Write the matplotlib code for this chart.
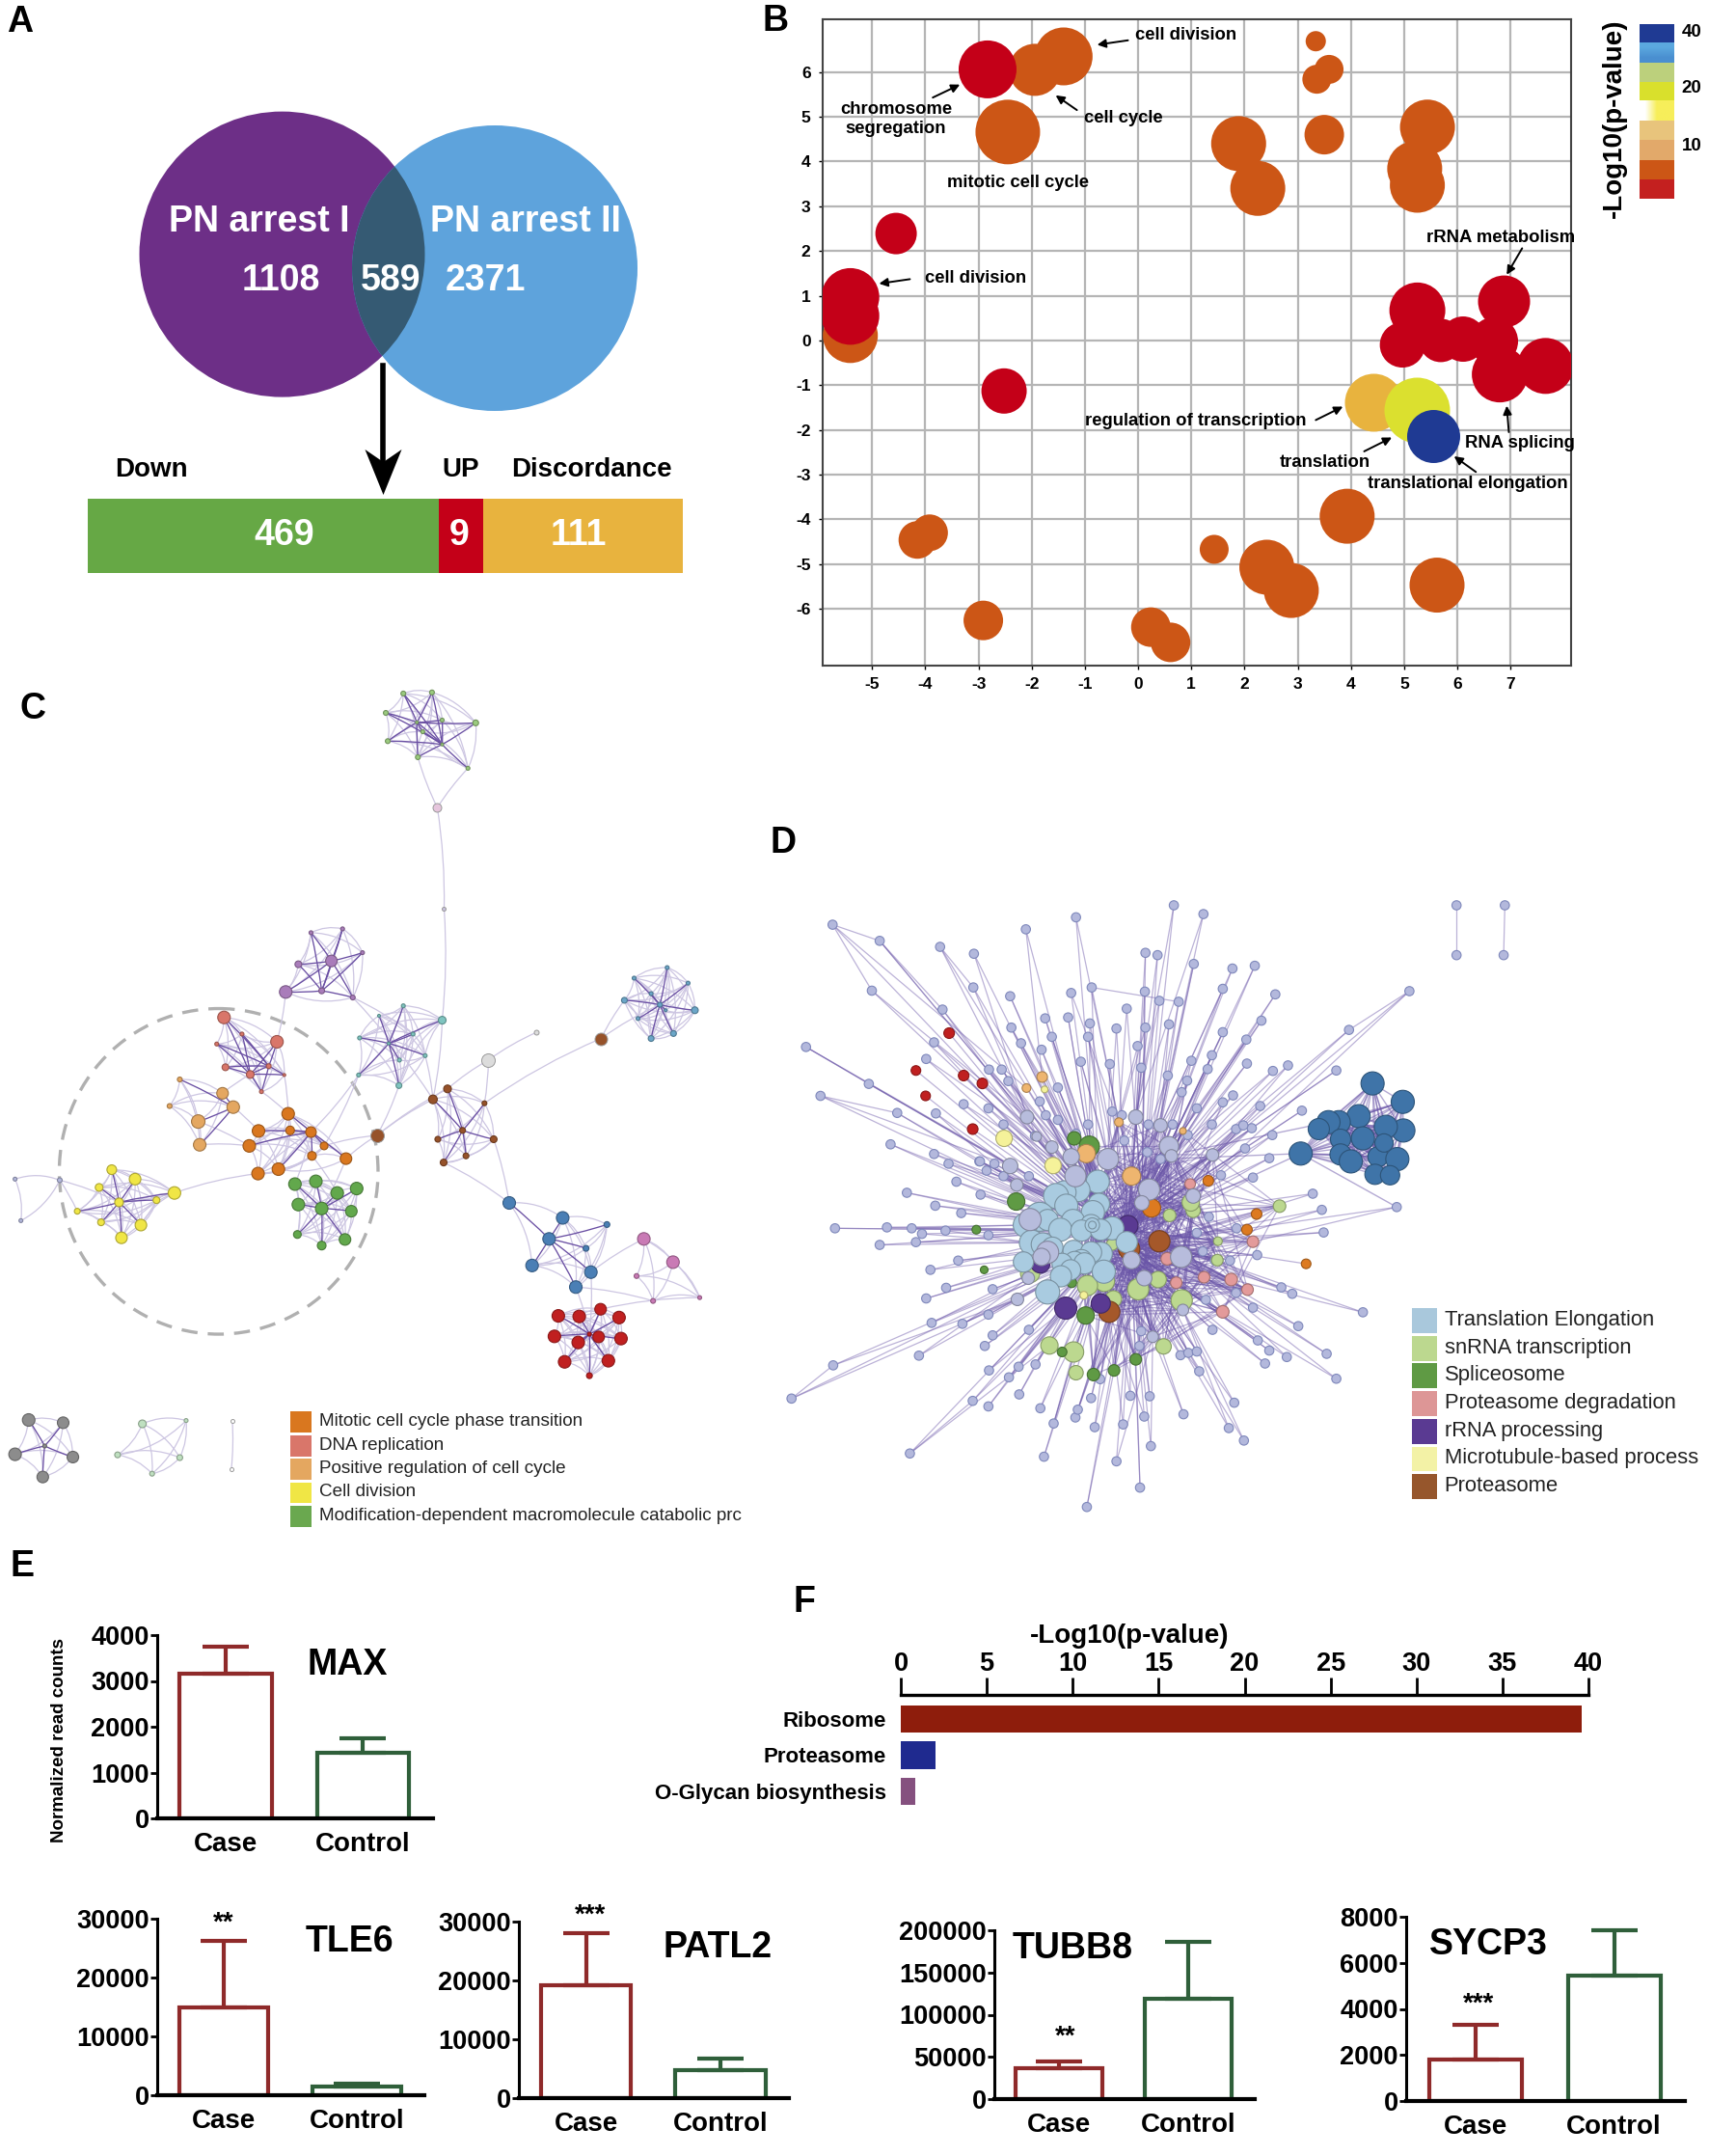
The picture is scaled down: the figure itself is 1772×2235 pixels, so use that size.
import numpy as np
import matplotlib
matplotlib.use("Agg")
import matplotlib.pyplot as plt
from matplotlib.collections import LineCollection, PathCollection
from matplotlib.colors import to_rgb
from matplotlib.patches import Circle, Ellipse, Polygon, Rectangle
from matplotlib.path import Path

plt.rcParams['font.family'] = ['Liberation Sans', 'DejaVu Sans']
plt.rcParams['axes.unicode_minus'] = False

W, H = 1772, 2235

# ---- panel A
venn_names = ['PN arrest I', 'PN arrest II']
venn_counts = ['1108', '589', '2371']
split_names = ['Down', 'UP', 'Discordance']
split_labels = ['469', '9', '111']
split_widths = [364, 46, 207]   # drawn widths, not proportional in the figure
split_colors = ['#66a845', '#c40018', '#e8b33e']

# ---- panel B: (x, y, diameter)
b_orange = [(-5.41, 0.11, 57), (-1.4, 6.35, 60), (-1.94, 6.05, 54), (-2.45, 4.66, 67), (3.34, 6.69, 21),
            (3.59, 6.06, 30), (3.36, 5.84, 30), (3.5, 4.6, 41), (1.89, 4.4, 57), (2.25, 3.4, 57),
            (5.44, 4.77, 57), (5.2, 3.84, 57), (5.25, 3.47, 57), (3.93, -3.93, 57), (-3.92, -4.3, 38),
            (-4.15, -4.46, 39), (1.43, -4.67, 30), (2.42, -5.07, 57), (2.88, -5.59, 57), (5.62, -5.47, 57),
            (-2.91, -6.26, 41), (0.24, -6.41, 41), (0.61, -6.75, 41)]
b_red = [(-2.83, 6.06, 60), (-4.55, 2.39, 43), (-5.41, 0.97, 60), (-5.41, 0.55, 60), (-2.52, -1.13, 47),
         (5.25, 0.67, 58), (4.97, -0.1, 47), (5.69, 0.0, 45), (6.11, 0.03, 47), (6.69, -0.02, 50),
         (6.88, 0.87, 54), (6.8, -0.76, 58), (7.66, -0.57, 58)]
b_top = [(4.43, -1.38, 60, '#e8b33e'), (5.23, -1.55, 68, '#dbe02f'), (5.54, -2.13, 55, '#1f3a93')]
b_notes = ['cell division', 'chromosome\nsegregation', 'cell cycle', 'mitotic cell cycle', 'cell division',
           'rRNA metabolism', 'regulation of transcription', 'translation', 'RNA splicing',
           'translational elongation']
b_note_xy = [(0.89, 6.83), (-4.55, 4.95), (-0.28, 4.98), (-2.26, 3.52), (-3.06, 1.38),
             (6.82, 2.3), (1.09, -1.8), (3.51, -2.72), (7.18, -2.3), (6.19, -3.21)]
b_arrows = [((-0.19, 6.71), (-0.77, 6.61)), ((-3.86, 5.43), (-3.35, 5.72)), ((-1.15, 5.15), (-1.55, 5.48)),
            ((-4.29, 1.37), (-4.87, 1.27)), ((7.22, 2.06), (6.93, 1.47)), ((3.34, -1.78), (3.85, -1.48)),
            ((4.25, -2.48), (4.77, -2.17)), ((6.97, -2.05), (6.93, -1.46)), ((6.35, -2.94), (5.94, -2.59))]
cbar_colors = ['#c4201f', '#cc5616', '#e2a96a', '#e8c47c', '#f7ee5a', '#d9e02c', '#bcd07c', '#5ba8df', '#1f3a93']

# ---- panel C: cluster nodes (x, y, diameter), hub indices
c_top = [(830, 33, 5), (889, 31, 5), (794, 68, 5), (798, 119, 5), (860, 148, 5), (979, 86, 6), (910, 81, 4),
         (870, 102, 4), (963, 168, 4), (858, 85, 3), (910, 125, 3)]
c_purple = [(640, 465, 4), (705, 458, 4), (746, 501, 4), (682, 516, 12), (614, 522, 7), (662, 570, 6),
            (726, 582, 5), (588, 572, 13)]
c_teal = [(830, 597, 4), (740, 655, 4), (780, 615, 3), (850, 648, 4), (800, 665, 3), (875, 687, 4), (738, 722, 4),
          (822, 695, 4), (821, 741, 6), (910, 623, 8)]
c_dna = [(461, 618, 13), (570, 662, 13), (498, 648, 4), (446, 666, 4), (464, 708, 7), (515, 721, 8), (553, 706, 5),
         (585, 722, 3), (538, 752, 4)]
c_posreg = [(370, 730, 5), (349, 778, 5), (458, 755, 12), (480, 780, 13), (408, 806, 14), (411, 848, 13)]
c_mitotic = [(593, 792, 13), (532, 823, 13), (513, 850, 13), (597, 822, 9), (640, 825, 11), (667, 850, 8),
             (642, 868, 9), (712, 873, 12), (573, 892, 13), (531, 900, 13)]
c_green = [(607, 919, 13), (650, 914, 13), (694, 935, 13), (734, 927, 13), (614, 956, 13), (662, 963, 13),
           (723, 968, 12), (612, 1010, 8), (662, 1030, 9), (710, 1019, 12)]
c_yellow = [(230, 893, 10), (278, 910, 12), (204, 925, 8), (245, 952, 9), (322, 948, 7), (159, 968, 6),
            (208, 988, 7), (290, 993, 12), (250, 1016, 12), (359, 935, 13)]
c_left = [(31, 910, 4), (123, 912, 5), (43, 985, 4)]
c_brown = [(891, 766, 9), (921, 747, 8), (997, 773, 5), (1016, 838, 7), (901, 838, 6), (952, 822, 6),
           (959, 868, 6), (913, 880, 7)]
c_cyan = [(1305, 547, 4), (1373, 528, 4), (1416, 556, 4), (1430, 605, 7), (1386, 647, 6), (1340, 656, 6),
          (1285, 587, 6), (1358, 595, 5), (1370, 605, 3), (1313, 620, 4), (1340, 575, 4)]
c_blue = [(1048, 953, 13), (1158, 980, 13), (1249, 992, 6), (1130, 1018, 13), (1206, 1035, 6), (1095, 1066, 13),
          (1216, 1078, 13), (1185, 1105, 13)]
c_pink = [(1325, 1018, 13), (1385, 1060, 13), (1310, 1085, 5), (1344, 1130, 5), (1440, 1124, 4)]
c_red = [(1149, 1157, 13), (1192, 1158, 13), (1236, 1145, 12), (1274, 1160, 13), (1141, 1194, 13), (1190, 1205, 13),
         (1232, 1195, 12), (1278, 1198, 13), (1162, 1240, 13), (1252, 1238, 13), (1213, 1190, 4), (1213, 1265, 6)]
c_gray = [(59, 1345, 13), (130, 1350, 12), (31, 1407, 13), (150, 1412, 12), (88, 1448, 12), (92, 1392, 4)]
c_pale = [(293, 1352, 8), (383, 1346, 4), (242, 1408, 6), (370, 1413, 6), (313, 1442, 5)]
c_single = [(1237, 656, 13, '#96522a'), (776, 831, 14, '#96522a'), (1005, 695, 14, '#dcdcdc'), (1104, 645, 5, '#dcdcdc'),
            (900, 239, 9, '#e6c5dd'), (914, 422, 4, '#c9c2de'), (478, 1346, 4, '#ffffff'), (476, 1434, 4, '#ffffff')]
c_clusters = [(c_top, '#9bcb7f', (9, 10)), (c_purple, '#a97cba', (3, 5)), (c_teal, '#7fc4c0', (4,)), (c_dna, '#d9766a', (5, 6)),
              (c_posreg, '#e4a760', (3,)), (c_mitotic, '#d9771f', (4,)), (c_green, '#62a84c', (5,)), (c_yellow, '#f0e645', (3,)),
              (c_left, '#b3b8dc', ()), (c_brown, '#96522a', (5,)), (c_cyan, '#6ba6c8', (7,)), (c_blue, '#4a7fb5', (3,)),
              (c_pink, '#c97ab5', ()), (c_red, '#c02020', (10,)), (c_gray, '#8c8c8c', (5,)), (c_pale, '#bfe0c0', ())]
c_bridges = [((900, 239), (914, 422)), ((914, 422), (910, 623)), ((900, 239), (860, 148)), ((900, 239), (963, 168)),
             ((1005, 695), (1104, 645)), ((921, 747), (1005, 695)), ((997, 773), (1237, 656)), ((1237, 656), (1285, 587)),
             ((1237, 656), (1358, 595)), ((776, 831), (891, 766)), ((776, 831), (921, 747)), ((667, 850), (776, 831)),
             ((712, 873), (776, 831)), ((359, 935), (531, 900)), ((359, 935), (245, 952)), ((123, 912), (245, 952)),
             ((123, 912), (159, 968)), ((910, 623), (891, 766)), ((875, 687), (891, 766)), ((726, 582), (850, 648)),
             ((726, 582), (891, 766)), ((588, 572), (570, 662)), ((738, 722), (640, 825)), ((738, 722), (667, 850)),
             ((913, 880), (1048, 953)), ((1016, 838), (1048, 953)), ((1185, 1105), (1213, 1190)), ((1216, 1078), (1213, 1190)),
             ((1216, 1078), (1325, 1018)), ((1185, 1105), (1344, 1130)), ((1236, 1145), (1440, 1124)), ((538, 752), (593, 792)),
             ((585, 722), (593, 792)), ((593, 792), (640, 825)), ((480, 780), (532, 823)), ((408, 806), (513, 850)),
             ((411, 848), (513, 850)), ((458, 755), (515, 721)), ((640, 825), (607, 919)), ((642, 868), (694, 935)),
             ((712, 873), (662, 963)), ((573, 892), (640, 825)), ((531, 900), (640, 825)), ((1005, 695), (997, 773)),
             ((821, 741), (776, 831)), ((478, 1346), (476, 1434))]
c_legend = ['Mitotic cell cycle phase transition', 'DNA replication', 'Positive regulation of cell cycle',
            'Cell division', 'Modification-dependent macromolecule catabolic prc']
c_legend_colors = ['#d9771f', '#d9766a', '#e4a760', '#f0e645', '#6aa84f']

# ---- panel D: outer nodes (x, y)
d_outer = [(117, 227), (195, 262), (182, 370), (295, 275), (351, 290), (350, 363), (299, 411), (437, 237), (520, 211),
           (682, 185), (731, 204), (635, 288), (655, 293), (715, 312), (779, 322), (816, 316), (850, 378), (763, 366),
           (690, 394), (658, 392), (634, 372), (546, 363), (512, 375), (411, 382), (413, 450), (469, 430), (507, 428),
           (480, 470), (429, 484), (463, 498), (543, 441), (540, 470), (604, 409), (587, 452), (635, 450), (674, 443),
           (622, 490), (763, 460), (827, 435), (802, 476), (745, 510), (711, 522), (803, 528), (738, 540), (846, 544),
           (871, 532), (951, 543), (972, 455), (1072, 371), (73, 492), (177, 572), (97, 598), (224, 635), (213, 703),
           (285, 482), (272, 518), (288, 636), (334, 616), (376, 541), (397, 541), (408, 566), (528, 524), (576, 529),
           (628, 537), (672, 554), (704, 565), (695, 590), (763, 612), (780, 597), (825, 620), (894, 630), (845, 683),
           (811, 668), (785, 670), (285, 724), (309, 745), (240, 808), (322, 784), (360, 740), (287, 836), (330, 852),
           (362, 812), (121, 885), (207, 883), (248, 885), (195, 921), (265, 897), (255, 915), (304, 890), (375, 900),
           (279, 975), (325, 955), (305, 1014), (382, 1017), (272, 1037), (281, 1090), (332, 1092), (375, 1072), (382, 1117),
           (369, 1140), (260, 1161), (118, 1182), (49, 1254), (245, 1373), (349, 1259), (375, 1271), (426, 1245), (409, 1208),
           (376, 1193), (425, 1185), (453, 1180), (442, 1105), (461, 1275), (483, 1308), (467, 1380), (538, 1489), (551, 1316),
           (587, 1390), (519, 1295), (523, 1278), (545, 1253), (560, 1212), (598, 1310), (610, 1248), (642, 1249), (633, 1293),
           (644, 1357), (626, 1447), (698, 1288), (773, 1318), (798, 1345), (782, 1263), (724, 1195), (693, 1160), (706, 1155),
           (720, 1152), (833, 1178), (840, 1150), (869, 1164), (821, 1128), (888, 1097), (935, 1157), (951, 1211), (995, 1067),
           (878, 1027), (860, 1013), (813, 1057), (820, 943), (786, 885), (930, 894), (927, 845), (912, 810), (1051, 839),
           (625, 1140), (648, 1120), (628, 1108), (746, 1105), (750, 955), (840, 733), (800, 712), (813, 775), (760, 770),
           (720, 625), (705, 683), (596, 640), (540, 660), (490, 650), (470, 640), (452, 685), (400, 660), (375, 625),
           (361, 740), (385, 745), (372, 760), (400, 772), (422, 790), (442, 772), (730, 935), (775, 955), (785, 1025),
           (735, 1040), (740, 860), (720, 895), (660, 735), (600, 695), (638, 720), (520, 680), (490, 580), (460, 610),
           (580, 632), (640, 660), (680, 660), (745, 660), (797, 662), (1150, 185), (1150, 293), (1230, 185), (1228, 293)]
# medium nodes inside the hairball, (x, y, diameter)
d_mid = [(411, 750, 16), (439, 644, 14), (480, 709, 13), (512, 730, 17), (573, 735, 22), (519, 772, 22), (619, 644, 15),
         (660, 662, 14), (674, 707, 20), (678, 728, 13), (746, 726, 13), (641, 801, 22), (629, 830, 15), (714, 815, 15),
         (694, 947, 22), (612, 954, 18), (633, 993, 16), (423, 1039, 13), (441, 993, 13), (422, 791, 13), (697, 1062, 12),
         (647, 1120, 12), (455, 686, 10), (444, 866, 23), (473, 937, 23), (463, 947, 18)]
d_elong = [(556, 784, 24), (524, 802, 24), (501, 807, 24), (487, 815, 26), (504, 836, 24), (558, 832, 22), (548, 850, 24),
           (460, 860, 30), (436, 878, 25), (473, 867, 22), (515, 869, 24), (545, 878, 22), (494, 888, 24), (529, 890, 22),
           (580, 885, 24), (561, 888, 22), (447, 916, 26), (465, 920, 24), (481, 927, 22), (516, 934, 22), (561, 940, 24),
           (545, 937, 22), (433, 958, 21), (529, 954, 22), (518, 958, 22), (497, 961, 21), (534, 961, 22), (566, 979, 24),
           (511, 975, 21), (495, 989, 22), (473, 1023, 25), (604, 915, 22), (547, 878, 15), (547, 878, 8)]
d_snrna = [(857, 837, 13), (714, 846, 15), (710, 829, 18), (675, 857, 13), (754, 954, 12), (755, 913, 9), (623, 1017, 22),
           (656, 996, 17), (695, 1041, 22), (567, 1000, 21), (539, 1009, 21), (582, 1038, 17), (444, 982, 20), (476, 1139, 18),
           (516, 1153, 21), (520, 1198, 15), (665, 1141, 16), (580, 920, 12)]
d_splice = [(517, 690, 14), (542, 707, 21), (421, 827, 18), (355, 888, 9), (368, 975, 8), (513, 1003, 10), (536, 1074, 18),
            (497, 1153, 10), (549, 1202, 13), (583, 1193, 12), (619, 1169, 12)]
d_degr = [(709, 789, 11), (813, 914, 12), (671, 951, 13), (686, 1003, 12), (732, 991, 12), (777, 996, 13), (804, 1018, 12),
          (763, 1066, 13)]
d_rrna = [(606, 879, 21), (461, 961, 20), (503, 1058, 23), (561, 1048, 20)]
d_micro = [(401, 690, 17), (482, 749, 17), (533, 1030, 8), (468, 584, 7)]
d_prot = [(658, 913, 22), (608, 930, 22), (575, 1066, 22)]
d_lorange = [(537, 723, 19), (612, 772, 19), (591, 655, 9), (438, 581, 9), (697, 674, 7), (464, 557, 11)]
d_orange = [(739, 782, 11), (819, 854, 11), (803, 888, 11), (901, 962, 10), (645, 841, 19)]
d_red = [(310, 462, 11), (255, 543, 10), (334, 554, 11), (365, 571, 11), (271, 598, 10), (349, 670, 11)]
d_blue = [(1011, 571, 24), (1061, 611, 24), (1062, 673, 24), (1033, 665, 24), (988, 642, 24), (955, 655, 24), (938, 655, 24),
          (922, 670, 22), (995, 690, 24), (958, 692, 21), (958, 725, 22), (975, 740, 24), (1020, 730, 21), (1052, 735, 24),
          (1015, 768, 21), (1040, 770, 20), (1030, 700, 19), (892, 723, 24)]
d_chains = [((117, 227), (195, 262)), ((195, 262), (299, 411)), ((117, 227), (182, 370)), ((49, 1254), (118, 1182)),
            ((972, 455), (1072, 371)), ((546, 363), (690, 394)), ((1150, 185), (1150, 293)), ((1230, 185), (1228, 293)),
            ((295, 275), (350, 363)), ((245, 1373), (349, 1259)), ((73, 492), (177, 572)), ((97, 598), (224, 635))]
d_legend = ['Translation Elongation', 'snRNA transcription', 'Spliceosome', 'Proteasome degradation', 'rRNA processing',
            'Microtubule-based process', 'Proteasome']
d_legend_colors = ['#a9c8dc', '#bcd88f', '#5f9a44', '#dd9696', '#5a3a92', '#f3f2a6', '#96562c']

# ---- panel E
gene_names = ['MAX', 'TLE6', 'PATL2', 'TUBB8', 'SYCP3']
group_names = ['Case', 'Control']
case_mean = [3150, 15000, 19100, 37000, 1800]
case_err = [600, 11200, 8900, 8000, 1500]
control_mean = [1430, 1400, 4700, 119000, 5450]
control_err = [320, 600, 1950, 67000, 1950]
y_maxes = [4000, 30000, 30000, 200000, 8000]
y_steps = [1000, 10000, 10000, 50000, 2000]
star_text = [None, '**', '***', '**', '***']
star_y = [None, 29300, 31100, 73500, 4200]
star_x = [None, 1.0, 1.03, 1.05, 1.02]

# ---- panel F
pathways = ['Ribosome', 'Proteasome', 'O-Glycan biosynthesis']
pathway_vals = [39.6, 2.0, 0.85]
pathway_colors = ['#8e1d0c', '#1f2a8f', '#85507f']
pathway_ticks = [0, 5, 10, 15, 20, 25, 30, 35, 40]


def px_axes(left, top, right, bottom):
    return fig.add_axes([left / W, 1 - bottom / H, (right - left) / W, (bottom - top) / H])


def dots(ax, nodes, color, edge=None, zorder=3):
    n = np.array(nodes, dtype=float)
    if edge is None:
        edge = tuple(c * 0.72 for c in to_rgb(color))
    ax.scatter(n[:, 0], n[:, 1], s=(n[:, 2] * 0.72) ** 2, c=color, edgecolors=edge, linewidths=0.8, zorder=zorder)


def curved(p, q, bend=0.1):
    p, q = np.array(p, float), np.array(q, float)
    mid = (p + q) / 2 + bend * np.array([q[1] - p[1], p[0] - q[0]])
    return Path([p, mid, q], [Path.MOVETO, Path.CURVE3, Path.CURVE3])


fig = plt.figure(figsize=(W / 100, H / 100), dpi=100)
ov = fig.add_axes([0, 0, 1, 1])
ov.set_xlim(0, W)
ov.set_ylim(H, 0)
ov.axis('off')

# panel letters
for s, x, y in zip('ABCDEF', [21, 804, 34, 812, 23, 834], [23, 22, 735, 874, 1624, 1661]):
    ov.text(x, y, s, fontsize=27, fontweight='bold', ha='center', va='center')

# A
left_c = Circle((292.5, 263.6), 148, color='#6d2f87', lw=0)
right_c = Circle((513, 278), 148, color='#5ea3dc', lw=0)
ov.add_patch(left_c)
ov.add_patch(right_c)
both = Circle((292.5, 263.6), 148, color='#355a73', lw=0)
ov.add_patch(both)
both.set_clip_path(right_c)
for s, x in zip(venn_names, [269, 545]):
    ov.text(x, 230, s, color='white', fontsize=27, fontweight='bold', ha='center', va='center')
for s, x in zip(venn_counts, [291, 405.5, 503.5]):
    ov.text(x, 291, s, color='white', fontsize=27, fontweight='bold', ha='center', va='center')
starts = 91 + np.cumsum([0] + split_widths[:-1])
ov.barh([555.3] * 3, split_widths, left=starts, height=77.4, color=split_colors)
for s, x in zip(split_labels, [294.5, 476.6, 599.5]):
    ov.text(x, 555, s, color='white', fontsize=27, fontweight='bold', ha='center', va='center')
for s, x in zip(split_names, [157, 478, 613]):
    ov.text(x, 487, s, fontsize=20, fontweight='bold', ha='center', va='center')
ov.plot([397.5, 397.5], [379, 480], color='black', lw=4)
ov.add_patch(Polygon([(378.5, 466), (397.5, 479), (416.5, 466), (397.5, 513)], color='black', lw=0))

# B
axb = px_axes(853, 20, 1629, 690)
axb.set_xlim(-5.93, 8.14)
axb.set_ylim(-7.27, 7.18)
axb.set_xticks(range(-5, 8))
axb.set_yticks(range(-6, 7))
axb.grid(True, color='#b5b5b5', lw=1.6)
axb.set_axisbelow(True)
for sp in axb.spines.values():
    sp.set_linewidth(1.5)
    sp.set_color('#444444')
axb.tick_params(length=3, width=1, labelsize=12.5, pad=6)
for lab in axb.get_xticklabels() + axb.get_yticklabels():
    lab.set_fontweight('bold')
for group, col in [(b_orange, '#cc5616'), (b_red, '#c40018')]:
    g = np.array(group)
    axb.scatter(g[:, 0], g[:, 1], s=(g[:, 2] * 0.72) ** 2, c=col, lw=0, zorder=3)
for x, y, d, col in b_top:
    axb.scatter([x], [y], s=(d * 0.72) ** 2, c=col, lw=0, zorder=4)
for s, (x, y) in zip(b_notes, b_note_xy):
    axb.text(x, y, s, fontsize=13.3, fontweight='bold', ha='center', va='center', zorder=6)
for a, b in b_arrows:
    axb.annotate('', xy=b, xytext=a, arrowprops=dict(arrowstyle='-|>', color='black', lw=1.4, mutation_scale=13,
                                                     shrinkA=0, shrinkB=0), zorder=6)

axc = px_axes(1699.6, 25, 1735.6, 205.7)
axc.bar([0] * len(cbar_colors), [1] * len(cbar_colors), bottom=range(len(cbar_colors)), width=1, color=cbar_colors)
# the yellow and light blue bands fade inside the colour bar
axc.imshow(np.array([[[1, 1, 1], to_rgb('#f7ee5a'), to_rgb('#f7ee5a')]]), extent=(-0.5, 0.5, 4, 5), aspect='auto',
           interpolation='bilinear', zorder=3)
axc.imshow(np.array([[to_rgb('#5ba8df')], [to_rgb('#4a8fd0')]]), extent=(-0.5, 0.5, 7, 8), aspect='auto',
           interpolation='bilinear', zorder=3)
axc.set_xlim(-0.5, 0.5)
axc.set_ylim(0, len(cbar_colors))
axc.axis('off')
for s, y in zip(['40', '20', '10'], [34, 92, 151]):
    ov.text(1754, y, s, fontsize=13.5, fontweight='bold', ha='center', va='center')
ov.text(1673.7, 123, '-Log10(p-value)', fontsize=20, fontweight='bold', rotation=90, ha='center', va='center')

# C
axn = px_axes(0, 700, 790, 1600)
axn.set_xlim(0, 1568)
axn.set_ylim(1568, 0)
axn.axis('off')
light, dark = [], []
for nodes, col, hubs in c_clusters:
    xy = [n[:2] for n in nodes]
    for i in range(len(xy)):
        for j in range(i + 1, len(xy)):
            dist = np.hypot(xy[i][0] - xy[j][0], xy[i][1] - xy[j][1])
            if (i in hubs or j in hubs) and dist < 130:
                dark.append(curved(xy[i], xy[j], 0.03))
            elif dist < 175:
                light.append(curved(xy[i], xy[j], 0.16))
for p, q in c_bridges:
    light.append(curved(p, q, 0.05))
axn.add_collection(PathCollection(light, facecolors='none', edgecolors='#cdc6e2', linewidths=0.9, zorder=1))
axn.add_collection(PathCollection(dark, facecolors='none', edgecolors='#6a4fa3', linewidths=0.95, zorder=2))
for nodes, col, hubs in c_clusters:
    dots(axn, nodes, col)
for x, y, d, col in c_single:
    axn.scatter([x], [y], s=(d * 0.72) ** 2, c=col, edgecolors='#9a9a9a', linewidths=0.7, zorder=3)
axn.add_patch(Ellipse((450, 896), 656, 588, fill=False, ec='#b0b0b0', lw=2.4, ls=(0, (5, 3.2)), zorder=0))
for i, (s, col) in enumerate(zip(c_legend, c_legend_colors)):
    y = 1330 + i * 42.5
    axn.add_patch(Rectangle((598, y), 44, 38, color=col, lw=0))
    axn.text(657, y + 18, s, fontsize=13.6, color='#222222', va='center')

# D
axd = px_axes(790, 850, 1772, 1600)
axd.set_xlim(0, 1568)
axd.set_ylim(1568, 0)
axd.axis('off')
centre = np.array([600.0, 900.0])
core = np.array([n[:2] for n in d_mid + d_elong + d_snrna + d_splice + d_degr + d_rrna + d_prot + d_lorange], float)
segs = []
for p in d_outer:
    if p[0] > 1100 and p[1] < 300:
        continue
    p = np.array(p, float)
    for frac in (0.45, 0.12):
        aim = centre + frac * (p - centre)
        q = core[np.argmin(np.hypot(*(core - aim).T))]
        segs.append([p, q])
for p in list(core) + [np.array(n[:2], float) for n in d_red + d_orange + d_micro]:
    aim = centre + 0.25 * (p - centre)
    segs.append([p, core[np.argmin(np.hypot(*(core - aim).T))]])
# hairball links between inner nodes, every third pair so that white shows through
for i in range(len(core)):
    for j in range(i + 1, len(core)):
        if 90 < np.hypot(*(core[i] - core[j])) < 300 and core[i][0] > 520 and core[j][0] > 520 and (i + j) % 3 == 0:
            segs.append([core[i], core[j]])
segs += [[np.array(a, float), np.array(b, float)] for a, b in d_chains]
axd.add_collection(LineCollection(segs, colors='#6a55a8', alpha=0.45, linewidths=0.9, zorder=1))
blue_xy = [n[:2] for n in d_blue]
blue_segs = [[blue_xy[i], blue_xy[j]] for i in range(len(blue_xy)) for j in range(i + 1, len(blue_xy))]
blue_segs += [[(892, 723), (600, 900)], [(892, 723), (660, 735)], [(938, 655), (700, 720)], [(892, 723), (1051, 839)]]
axd.add_collection(LineCollection(blue_segs, colors='#6a55a8', alpha=0.5, linewidths=1.0, zorder=1))
dots(axd, [(x, y, 9.5) for x, y in d_outer], '#b3b8dc', '#7f88bb')
for group, col in [(d_red, '#c02020'), (d_snrna, '#bcd88f'), (d_splice, '#5f9a44'), (d_degr, '#e39a9a'),
                   (d_orange, '#dd7a20'), (d_prot, '#a5582a'), (d_rrna, '#5a3a92'), (d_elong, '#a9cbe0'),
                   (d_lorange, '#eeb56f'), (d_mid, '#b7bcdc'), (d_micro, '#f5f29a'), (d_blue, '#3f74a8')]:
    dots(axd, group, col, zorder=3)
for i, (s, col) in enumerate(zip(d_legend, d_legend_colors)):
    y = 1058 + i * 60
    axd.add_patch(Rectangle((1077, y), 40, 54, color=col, lw=0))
    axd.text(1130, y + 26, s, fontsize=15.8, color='#222222', va='center')

# E and the lower part of F: one small axes per gene
panel_boxes = [(163, 449, 1695, 1885), (163, 440, 1989, 2172), (538, 818, 1992, 2175),
               (1031, 1301, 2001, 2176), (1458, 1747, 1987, 2178)]
title_pos = [(360, 1726), (362, 2013), (744, 2019), (1112, 2020), (1543, 2016)]
for i, name in enumerate(gene_names):
    left, right, top, bottom = panel_boxes[i]
    ax = px_axes(left, top, right, bottom)
    ax.set_xlim(0.5, 2.51)
    ax.set_ylim(0, y_maxes[i])
    ax.patch.set_alpha(0)
    for sp in ['top', 'right']:
        ax.spines[sp].set_visible(False)
    ax.spines['left'].set_linewidth(2.2)
    ax.spines['bottom'].set_linewidth(3)
    ax.spines['bottom'].set_zorder(5)
    for x, m, e, col in [(1, case_mean[i], case_err[i], '#8f2a2a'), (2, control_mean[i], control_err[i], '#2f5f3a')]:
        ax.bar(x, m, width=0.67, fill=False, edgecolor=col, linewidth=3)
        ax.errorbar(x, m, yerr=[[0], [e]], color=col, elinewidth=3, capsize=17, capthick=3)
    ax.set_xticks([1, 2])
    ax.set_xticklabels(group_names, fontsize=20, fontweight='bold')
    ax.set_yticks(np.arange(0, y_maxes[i] + 1, y_steps[i]))
    ax.tick_params(axis='x', length=0, pad=10)
    ax.tick_params(axis='y', length=5, width=2, pad=1, labelsize=19.5)
    for lab in ax.get_yticklabels():
        lab.set_fontweight('bold')
    if star_text[i]:
        ax.text(star_x[i], star_y[i], star_text[i], fontsize=20, fontweight='bold', ha='center', va='center')
    ov.text(title_pos[i][0], title_pos[i][1], name, fontsize=27, fontweight='bold', ha='center', va='center')
ov.text(62, 1804, 'Normalized read counts', fontsize=13.5, fontweight='bold', rotation=90, ha='center', va='center')

# F
axf = px_axes(934, 1757, 1647, 1877)
axf.barh(range(3), pathway_vals, height=0.75, color=pathway_colors)
axf.set_xlim(0, 40)
axf.set_ylim(2.53, -0.66)
axf.xaxis.tick_top()
axf.set_xticks(pathway_ticks)
axf.set_yticks(range(3))
axf.set_yticklabels(pathways, fontsize=16, fontweight='bold')
axf.tick_params(axis='y', length=0, pad=11)
axf.tick_params(axis='x', length=13, width=2, pad=1, labelsize=19.5)
for lab in axf.get_xticklabels():
    lab.set_fontweight('bold')
for sp in ['left', 'right', 'bottom']:
    axf.spines[sp].set_visible(False)
axf.spines['top'].set_linewidth(2.4)
ov.text(1171, 1696, '-Log10(p-value)', fontsize=20, fontweight='bold', ha='center', va='center')

plt.savefig('out.png', dpi=100)
